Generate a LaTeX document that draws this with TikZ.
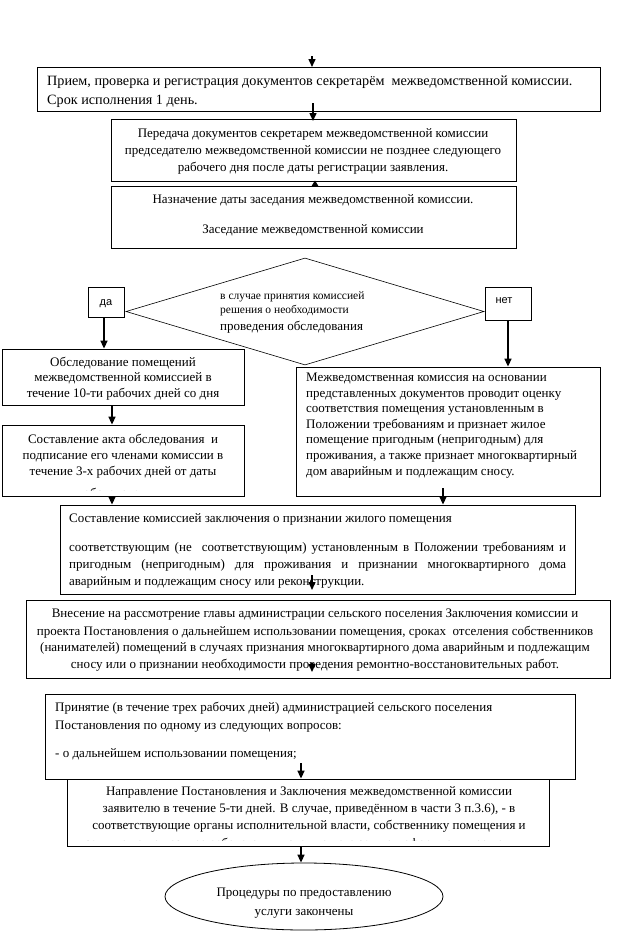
\documentclass[tikz,border=0pt]{standalone}
\usepackage{fontspec}
\setmainfont{Liberation Serif}
\newfontfamily\sansf{Liberation Sans}
\usetikzlibrary{arrows.meta,shapes.geometric}
\tikzset{
  box/.style={draw, line width=0.8pt, inner sep=0pt, fill=white},
  arr/.style={line width=1.5pt, -{Triangle[length=8pt,width=7pt]}},
  tx/.style={inner sep=0pt, font=\fontsize{13}{15}\selectfont},
  txb/.style={inner sep=0pt, font=\fontsize{14.2}{16}\selectfont},
  txs/.style={inner sep=0pt, font=\fontsize{11.5}{13}\selectfont},
  lbl/.style={inner sep=0pt, font=\sansf\fontsize{11}{13}\selectfont},
}
\begin{document}
\begin{tikzpicture}[x=1pt,y=-1pt]
\useasboundingbox (0,0) rectangle (622,948);
% boxes
\node[box, minimum width=563pt, minimum height=44pt] (b1) at (318.5,89) {};
\node[box, minimum width=405pt, minimum height=62pt] (b2) at (313.5,150) {};
\node[box, minimum width=405pt, minimum height=62pt] (b3) at (313.5,217) {};
\node[draw, line width=0.6pt, diamond, inner sep=0pt, minimum width=358pt, minimum height=107pt] (dm) at (305,311.5) {};
\node[box, minimum width=35.5pt, minimum height=30pt] (da) at (106.25,302) {};
\node[box, minimum width=46pt, minimum height=33pt] (net) at (508,303.5) {};
\node[box, minimum width=242pt, minimum height=56pt] (b4) at (123,377) {};
\node[box, minimum width=242pt, minimum height=71pt] (b6) at (123,460.5) {};
\node[box, minimum width=304pt, minimum height=129pt] (b5) at (448,431.5) {};
\node[box, minimum width=515pt, minimum height=89pt] (b7) at (317.5,549.5) {};
\node[box, minimum width=584pt, minimum height=78pt] (b8) at (318,639) {};
\node[box, minimum width=530pt, minimum height=85pt] (b9) at (310,736.5) {};
\node[box, minimum width=482pt, minimum height=67pt] (b10) at (308,812.5) {};
\node[draw, line width=0.8pt, ellipse, inner sep=0pt, minimum width=278pt, minimum height=67pt] (el) at (304,896.5) {};

% texts
\node[txb, anchor=base west] (t1a) at (47,85.5) {Прием, проверка и регистрация документов секретарём~ межведомственной комиссии.};
\node[txb, anchor=base west] (t1b) at (47,104) {Срок исполнения 1 день.};

\node[tx, anchor=base] (t2a) at (313,137) {Передача документов секретарем межведомственной комиссии};
\node[tx, anchor=base] (t2b) at (313,154) {председателю межведомственной комиссии не позднее следующего};
\node[tx, anchor=base] (t2c) at (313,171) {рабочего дня после даты регистрации заявления.};

\node[tx, anchor=base] (t3a) at (313,203.5) {Назначение даты заседания межведомственной комиссии.};
\node[tx, anchor=base] (t3b) at (313,233.5) {Заседание межведомственной комиссии};

\node[txs, anchor=base west] (tda) at (220,299) {в случае принятия комиссией};
\node[txs, anchor=base west] (tdb) at (220,313) {решения о необходимости};
\node[tx, anchor=base west] (tdc) at (220,330) {проведения обследования};

\node[lbl, anchor=base] (tyes) at (106,305) {да};
\node[lbl, anchor=base] (tno) at (504,303) {нет};

\node[tx, anchor=base] (t4a) at (123,366.7) {Обследование помещений};
\node[tx, anchor=base] (t4b) at (123,381.7) {межведомственной комиссией в};
\node[tx, anchor=base] (t4c) at (123,397) {течение 10-ти рабочих дней со дня};

\node[tx, anchor=base] (t6a) at (123,443.3) {Составление акта обследования~ и};
\node[tx, anchor=base] (t6b) at (123,459) {подписание его членами комиссии в};
\node[tx, anchor=base] (t6c) at (123,475) {течение 3-х рабочих дней от даты};
\begin{scope}
\clip (3,426) rectangle (243,490.6);
\node[tx, anchor=base] (t6d) at (123,497.5) {обследования.};
\end{scope}

\node[tx, anchor=base west] (t5a) at (306,381.7) {Межведомственная комиссия на основании};
\node[tx, anchor=base west] (t5b) at (306,397.2) {представленных документов проводит оценку};
\node[tx, anchor=base west] (t5c) at (306,412.8) {соответствия помещения установленным в};
\node[tx, anchor=base west] (t5d) at (306,428.3) {Положении требованиям и признает жилое};
\node[tx, anchor=base west] (t5e) at (306,443.9) {помещение пригодным (непригодным) для};
\node[tx, anchor=base west] (t5f) at (306,459.4) {проживания, а также признает многоквартирный};
\node[tx, anchor=base west] (t5g) at (306,475) {дом аварийным и подлежащим сносу.};

\node[tx, anchor=base west] (t7a) at (69,522.3) {Составление комиссией заключения о признании жилого помещения};
\node[tx, anchor=base west] (t7b) at (69,551) {\makebox[497pt][s]{соответствующим (не~ соответствующим) установленным в Положении требованиям и}};
\node[tx, anchor=base west] (t7c) at (69,568.3) {\makebox[497pt][s]{пригодным (непригодным) для проживания и признании многоквартирного дома}};
\node[tx, anchor=base west] (t7d) at (69,585.7) {аварийным и подлежащим сносу или реконструкции.};

\node[tx, anchor=base] (t8a) at (315,617.7) {Внесение на рассмотрение главы администрации сельского поселения Заключения комиссии и};
\node[tx, anchor=base] (t8b) at (315,635) {проекта Постановления о дальнейшем использовании помещения, сроках~ отселения собственников};
\node[tx, anchor=base] (t8c) at (315,651.7) {(нанимателей) помещений в случаях признания многоквартирного дома аварийным и подлежащим};
\node[tx, anchor=base] (t8d) at (315,668.7) {сносу или о признании необходимости проведения ремонтно-восстановительных работ.};

\node[tx, anchor=base west] (t9a) at (55,711) {Принятие (в течение трех рабочих дней) администрацией сельского поселения};
\node[tx, anchor=base west] (t9b) at (55,729.3) {Постановления по одному из следующих вопросов:};
\node[tx, anchor=base west] (t9c) at (55,757.3) {- о дальнейшем использовании помещения;};

\node[tx, anchor=base] (t10a) at (309,795) {Направление Постановления и Заключения межведомственной комиссии};
\node[tx, anchor=base] (t10b) at (309,812.7) {заявителю в течение 5-ти дней. В случае, приведённом в части 3 п.3.6), - в};
\node[tx, anchor=base] (t10c) at (309,829.3) {соответствующие органы исполнительной власти, собственнику помещения и};
\begin{scope}
\clip (68,780) rectangle (548,840.8);
\node[tx, anchor=base] (t10d) at (306,847) {заявителю не позднее рабочего дня, следующего за днем оформления решения.};
\end{scope}

\node[tx, anchor=base] (tea) at (304,896.7) {Процедуры по предоставлению};
\node[tx, anchor=base] (teb) at (304,915) {услуги закончены};

% arrows
\coordinate (s0) at (312,56);
\coordinate (e0) at (312,67);
\draw[arr] (s0) -- (e0);
\coordinate (s1) at (313,103);
\coordinate (e1) at (313,121);
\draw[arr] (s1) -- (e1);
\coordinate (s2) at (315,186);
\coordinate (e2) at (315,180.5);
\draw[line width=1pt, -{Triangle[length=5.5pt,width=6.5pt]}] (s2) -- (e2);
\draw[arr] (da.south -| 104,0) -- (b4.north -| 104,0);
\draw[arr] (net.south) -- (b5.north -| net.south);
\draw[arr] (b4.south -| 112,0) -- (b6.north -| 112,0);
\draw[arr] (b6.south -| 112,0) -- (b7.north -| 112,0);
\coordinate (s7) at (443,488);
\draw[arr] (s7) -- (b7.north -| s7);
\coordinate (s8) at (312,575);
\coordinate (e8) at (312,590);
\draw[arr] (s8) -- (e8);
\coordinate (s9) at (312,663);
\coordinate (e9) at (312,672);
\draw[arr] (s9) -- (e9);
\coordinate (s10) at (301,763);
\draw[arr] (s10) -- (b10.north -| s10);
\draw[arr] (b10.south -| 301,0) -- (el.north -| 301,0);
\end{tikzpicture}
\end{document}
